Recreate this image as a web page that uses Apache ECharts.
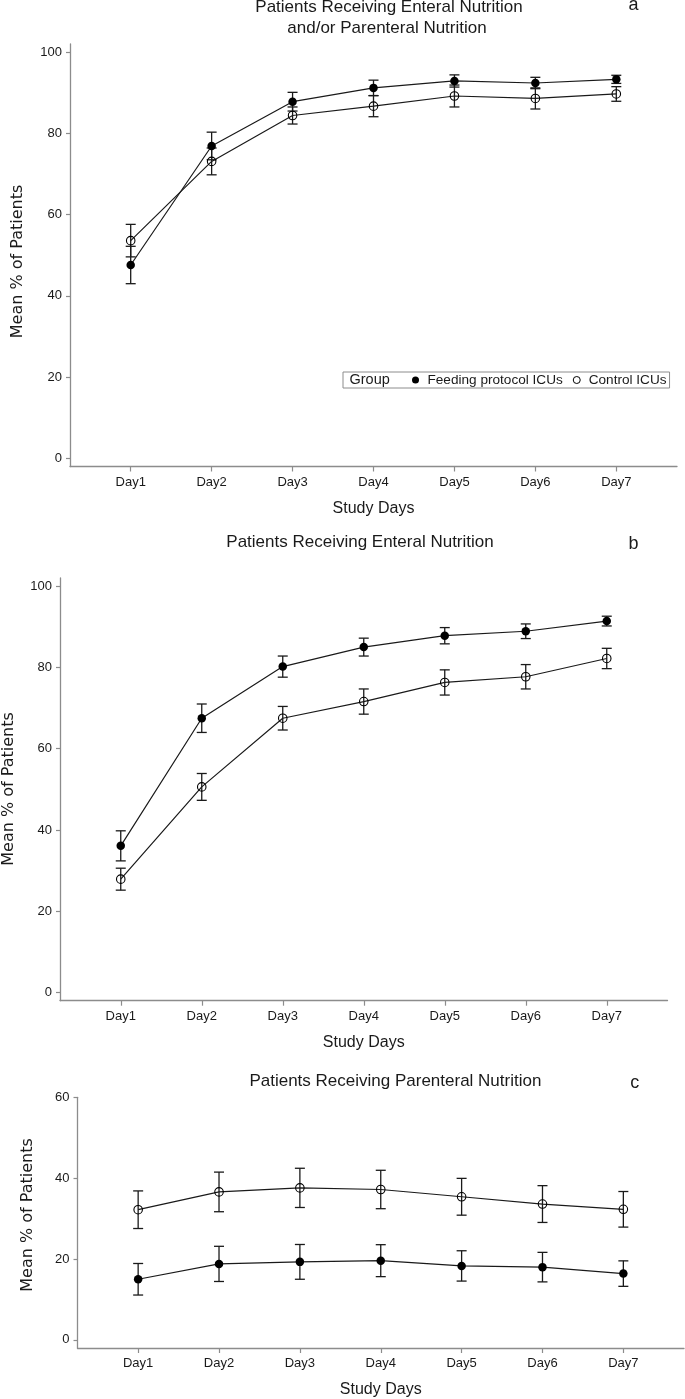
<!DOCTYPE html>
<html>
<head>
<meta charset="utf-8">
<script src="https://cdn.jsdelivr.net/npm/echarts@6/dist/echarts.min.js"></script>
<style>
html,body{margin:0;padding:0;background:#fff;}
#chart{width:685px;height:1399px;}
</style>
</head>
<body>
<div id="chart"></div>
<script>
// ---- data ----
const days = [1, 2, 3, 4, 5, 6, 7];
const dayLabels = ['Day1', 'Day2', 'Day3', 'Day4', 'Day5', 'Day6', 'Day7'];
const yTicks100 = [0, 20, 40, 60, 80, 100];
const yTicks60 = [0, 20, 40, 60];
const groupNames = ['Feeding protocol ICUs', 'Control ICUs'];

// Panel a: Enteral and/or Parenteral Nutrition
const aFeedMean = [47.6, 76.9, 87.8, 91.2, 92.9, 92.4, 93.3];
const aFeedErr  = [4.6, 3.4, 2.3, 1.9, 1.5, 1.4, 1.0];
const aCtrlMean = [53.6, 73.1, 84.4, 86.7, 89.2, 88.6, 89.7];
const aCtrlErr  = [4.0, 3.3, 2.1, 2.6, 2.7, 2.6, 1.8];

// Panel b: Enteral Nutrition
const bFeedMean = [36.1, 67.5, 80.2, 85.0, 87.8, 88.9, 91.4];
const bFeedErr  = [3.7, 3.5, 2.6, 2.2, 2.0, 1.8, 1.2];
const bCtrlMean = [27.9, 50.6, 67.5, 71.6, 76.3, 77.7, 82.2];
const bCtrlErr  = [2.7, 3.3, 2.9, 3.1, 3.1, 3.0, 2.5];

// Panel c: Parenteral Nutrition
const cFeedMean = [15.0, 18.8, 19.3, 19.6, 18.3, 18.0, 16.4];
const cFeedErr  = [3.9, 4.35, 4.3, 3.95, 3.75, 3.65, 3.15];
const cCtrlMean = [32.2, 36.6, 37.6, 37.2, 35.4, 33.6, 32.3];
const cCtrlErr  = [4.65, 4.9, 4.85, 4.75, 4.55, 4.55, 4.4];

// ---- styling helpers ----
const TXT = '#1a1a1a';
const AXIS = '#8c8c8c';
const FONT = '"Liberation Sans", Arial, sans-serif';
const FONT_Y = '"DejaVu Sans", Verdana, sans-serif';

function pts(mean) { return days.map((d, i) => [d, mean[i]]); }
function errs(mean, err) { return days.map((d, i) => [d, mean[i] - err[i], mean[i] + err[i]]); }

function renderErr(params, api) {
  const x = api.value(0), lo = api.value(1), hi = api.value(2);
  const p1 = api.coord([x, hi]);
  const p2 = api.coord([x, lo]);
  const w = 5;
  const st = { stroke: '#1a1a1a', lineWidth: 1.3 };
  return {
    type: 'group',
    children: [
      { type: 'line', shape: { x1: p1[0], y1: p1[1], x2: p2[0], y2: p2[1] }, style: st },
      { type: 'line', shape: { x1: p1[0] - w, y1: p1[1], x2: p1[0] + w, y2: p1[1] }, style: st },
      { type: 'line', shape: { x1: p2[0] - w, y1: p2[1], x2: p2[0] + w, y2: p2[1] }, style: st }
    ]
  };
}

function xAxisDef(idx, gap) {
  return {
    type: 'value', gridIndex: idx, min: 0.25, max: 7.75,
    name: 'Study Days', nameLocation: 'middle', nameGap: gap,
    nameTextStyle: { fontFamily: FONT, fontSize: 16, color: TXT },
    axisLine: { show: true, onZero: false, lineStyle: { color: AXIS, width: 1.3 } },
    axisTick: { show: true, length: 5, customValues: days, lineStyle: { color: AXIS, width: 1.2 } },
    axisLabel: { customValues: days, margin: 9, fontFamily: FONT, fontSize: 13, color: TXT,
      formatter: v => dayLabels[Math.round(v) - 1] },
    splitLine: { show: false }
  };
}
function yAxisDef(idx, max, ticks) {
  return {
    type: 'value', gridIndex: idx, min: -2, max: max,
    axisLine: { show: true, onZero: false, lineStyle: { color: AXIS, width: 1.3 } },
    axisTick: { show: true, length: 4, customValues: ticks, lineStyle: { color: AXIS, width: 1.2 } },
    axisLabel: { customValues: ticks, margin: 8, fontFamily: FONT, fontSize: 13, color: TXT },
    splitLine: { show: false }
  };
}

function panelSeries(idx, feedMean, feedErr, ctrlMean, ctrlErr) {
  return [
    { name: idx + '-feed-err', type: 'custom', xAxisIndex: idx, yAxisIndex: idx, z: 1,
      renderItem: renderErr, data: errs(feedMean, feedErr), silent: true },
    { name: idx + '-ctrl-err', type: 'custom', xAxisIndex: idx, yAxisIndex: idx, z: 1,
      renderItem: renderErr, data: errs(ctrlMean, ctrlErr), silent: true },
    { name: groupNames[0], type: 'line', xAxisIndex: idx, yAxisIndex: idx, z: 3,
      data: pts(feedMean), symbol: 'circle', symbolSize: 8.5,
      lineStyle: { color: '#1a1a1a', width: 1.2 },
      itemStyle: { color: '#000', borderWidth: 0 } },
    { name: groupNames[1], type: 'line', xAxisIndex: idx, yAxisIndex: idx, z: 3,
      data: pts(ctrlMean), symbol: 'circle', symbolSize: 8.5,
      lineStyle: { color: '#1a1a1a', width: 1.2 },
      itemStyle: { color: 'rgba(0,0,0,0)', borderColor: '#000', borderWidth: 1.1 } }
  ];
}

function yTitle(x, y) {
  return { type: 'text', x: x, y: y, rotation: Math.PI / 2,
    style: { text: 'Mean % of Patients', align: 'center', verticalAlign: 'middle', font: '16px ' + FONT_Y, fill: TXT } };
}
function txt(s, x, y, size, align) {
  return { type: 'text', x: x, y: y,
    style: { text: s, align: align || 'center', verticalAlign: 'middle', font: size + 'px ' + FONT, fill: TXT } };
}

const chart = echarts.init(document.getElementById('chart'), null, { renderer: 'canvas', width: 685, height: 1399 });

const option = {
  backgroundColor: '#fff',
  animation: false,
  grid: [
    { left: 70, right: 8, top: 44, height: 422.5 },
    { left: 60, right: 17.5, top: 578, height: 422.7 },
    { left: 77.5, right: 1, top: 1097.3, height: 252.5 }
  ],
  xAxis: [xAxisDef(0, 34), xAxisDef(1, 34), xAxisDef(2, 34)],
  yAxis: [yAxisDef(0, 102, yTicks100), yAxisDef(1, 102, yTicks100), yAxisDef(2, 60, yTicks60)],
  legend: {
    left: 343, top: 372,
    orient: 'horizontal',
    padding: [1, 3, 1, 69],
    borderColor: '#8c8c8c', borderWidth: 1,
    itemWidth: 14, itemHeight: 7, itemGap: 10,
    selectedMode: false,
    textStyle: { fontFamily: FONT, fontSize: 13.6, color: TXT },
    data: [
      { name: groupNames[0], icon: 'circle', itemStyle: { color: '#000', borderWidth: 0 } },
      { name: groupNames[1], icon: 'circle', itemStyle: { color: '#fff', borderColor: '#000', borderWidth: 1 } }
    ]
  },
  graphic: [
    txt('Patients Receiving Enteral Nutrition', 389, 7.3, 17),
    txt('and/or Parenteral Nutrition', 387, 27.9, 17),
    txt('a', 633.5, 5.5, 18),
    txt('Group', 349.5, 380.3, 14.5, 'left'),
    yTitle(18.3, 261.5),
    txt('Patients Receiving Enteral Nutrition', 360, 542, 17),
    txt('b', 633.5, 544, 18),
    yTitle(8.5, 789),
    txt('Patients Receiving Parenteral Nutrition', 395.4, 1081, 17),
    txt('c', 634.8, 1083, 18),
    yTitle(28, 1215)
  ],
  series: [].concat(
    panelSeries(0, aFeedMean, aFeedErr, aCtrlMean, aCtrlErr),
    panelSeries(1, bFeedMean, bFeedErr, bCtrlMean, bCtrlErr),
    panelSeries(2, cFeedMean, cFeedErr, cCtrlMean, cCtrlErr)
  )
};
chart.setOption(option);
</script>
</body>
</html>
